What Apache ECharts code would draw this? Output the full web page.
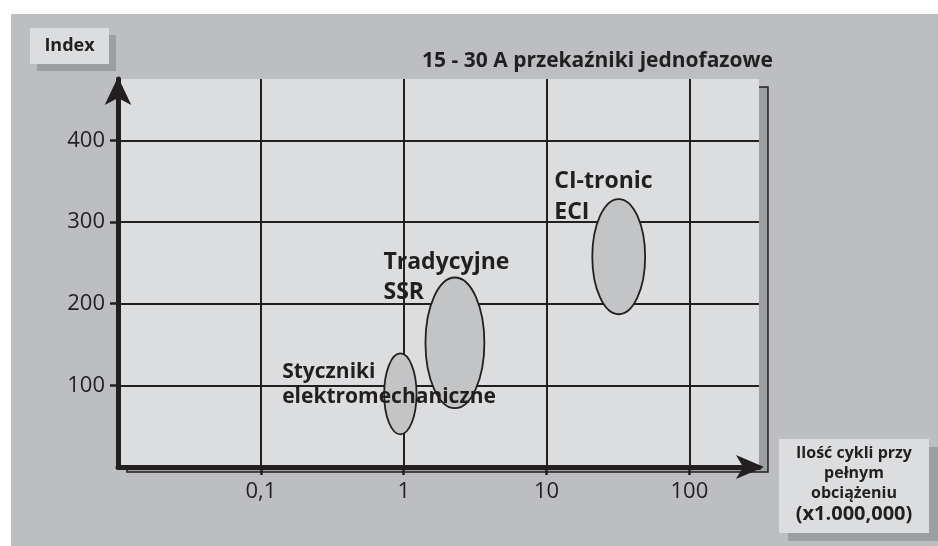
<!DOCTYPE html>
<html>
<head>
<meta charset="utf-8">
<script src="https://cdn.jsdelivr.net/npm/echarts@6/dist/echarts.min.js"></script>
<style>
  html, body { margin: 0; padding: 0; background: #fff; }
  #chart { width: 938px; height: 546px; }
</style>
</head>
<body>
<div id="chart"></div>
<script>
(function(){

  // groups of relays, with the range of each ellipse
  var groups = ['Styczniki\nelektromechaniczne', 'Tradycyjne\nSSR', 'CI-tronic\nECI'];
  var cyclesMin = [0.73, 1.42, 20.9];   // x1.000.000 cycles
  var cyclesMax = [1.23, 3.67, 49];
  var indexMin = [40, 72, 187];
  var indexMax = [139, 232, 328];

  var xTicks = [0.1, 1, 10, 100];
  var yTicks = [100, 200, 300, 400];
  var xMin = 0.01, xMax = 307;
  var yMax = 475;

  var font = 'Open Sans';
  var ink = '#231f20';

  // label placement relative to the top-left of each ellipse (px)
  var labelStyle = [
    { dx: -102, dy: 6.5, size: 21, lh: 25 },
    { dx: -42, dy: -30, size: 23, lh: 30 },
    { dx: -38, dy: -33.5, size: 23, lh: 31 }
  ];

  var data = groups.map(function(g, i){
    return [Math.log10(cyclesMin[i]), Math.log10(cyclesMax[i]), indexMin[i], indexMax[i]];
  });

  var chart = echarts.init(document.getElementById('chart'));

  var option = {
    animation: false,
    textStyle: { fontFamily: font },
    title: {
      text: '15 - 30 A przekaźniki jednofazowe',
      right: 165,
      top: 51,
      padding: 0,
      textStyle: { fontFamily: font, fontSize: 21, fontWeight: 'bold', color: ink }
    },
    grid: {
      left: 118, right: 179, top: 79, bottom: 79,
      show: true,
      backgroundColor: '#dcdddf',
      borderWidth: 0
    },
    xAxis: {
      type: 'value',
      min: Math.log10(xMin),
      max: Math.log10(xMax),
      interval: 1,
      axisLine: {
        onZero: false,
        lineStyle: { color: ink, width: 5 },
        symbol: ['none', 'arrow'],
        symbolSize: [18, 28],
        symbolOffset: [0, 5]
      },
      axisTick: {
        show: true, length: 8,
        lineStyle: { color: ink, width: 2.5 },
        customValues: xTicks.map(function(v){ return Math.log10(v); })
      },
      axisLabel: {
        fontSize: 22, color: ink, margin: 14, fontFamily: font,
        customValues: xTicks.map(function(v){ return Math.log10(v); }),
        formatter: function(v){
          return String(Number(Math.pow(10, v).toPrecision(3))).replace('.', ',');
        }
      },
      splitLine: { show: true, lineStyle: { color: ink, width: 2 } }
    },
    yAxis: {
      type: 'value',
      min: 0,
      max: yMax,
      interval: 100,
      axisLine: {
        show: true,
        onZero: false,
        lineStyle: { color: ink, width: 5 },
        symbol: ['none', 'arrow'],
        symbolSize: [20, 28],
        symbolOffset: [0, 2]
      },
      axisTick: {
        show: true, length: 8,
        lineStyle: { color: ink, width: 2.5 },
        customValues: yTicks
      },
      axisLabel: {
        fontSize: 22, color: ink, margin: 13, fontFamily: font,
        customValues: yTicks
      },
      splitLine: { show: true, lineStyle: { color: ink, width: 2 } }
    },
    graphic: [
      // panel background
      { type: 'rect', z: -10, shape: { x: 11, y: 14, width: 927, height: 532 }, style: { fill: '#bdbec1' } },
      // plot shadow
      { type: 'rect', z: -5, shape: { x: 127, y: 87, width: 641, height: 385 },
        style: { fill: '#9d9ea0', stroke: ink, lineWidth: 1.5 } },
      // y axis name box
      { type: 'rect', z: -5, shape: { x: 37, y: 35, width: 79, height: 36 }, style: { fill: '#9d9ea0' } },
      { type: 'rect', z: -4, shape: { x: 30, y: 28, width: 79, height: 36 }, style: { fill: '#dcdddf' } },
      { type: 'text', z: 5, x: 69.5, y: 46,
        style: { text: 'Index', fontFamily: font, fontSize: 18, fontWeight: 'bold', fill: ink,
          align: 'center', verticalAlign: 'middle' } },
      // x axis name box
      { type: 'rect', z: -5, shape: { x: 788, y: 447, width: 150, height: 94 }, style: { fill: '#9d9ea0' } },
      { type: 'rect', z: -4, shape: { x: 779, y: 439, width: 150, height: 94 }, style: { fill: '#dcdddf' } },
      { type: 'text', z: 5, x: 854, y: 484,
        style: {
          text: '{a|Ilość cykli przy}\n{a|pełnym}\n{a|obciążeniu}\n{b|(x1.000,000)}',
          align: 'center', verticalAlign: 'middle', fill: ink,
          rich: {
            a: { fontFamily: font, fontSize: 16, fontWeight: 'bold', lineHeight: 20, fill: ink },
            b: { fontFamily: font, fontSize: 20, fontWeight: 'bold', lineHeight: 21, fill: ink }
          }
        } }
    ],
    series: [{
      type: 'custom',
      name: 'Index',
      clip: false,
      encode: { x: [0, 1], y: [2, 3] },
      data: data,
      renderItem: function(params, api){
        var i = params.dataIndex;
        var p1 = api.coord([api.value(0), api.value(3)]);
        var p2 = api.coord([api.value(1), api.value(2)]);
        var ls = labelStyle[i];
        return {
          type: 'group',
          children: [{
            type: 'ellipse',
            shape: {
              cx: (p1[0] + p2[0]) / 2, cy: (p1[1] + p2[1]) / 2,
              rx: (p2[0] - p1[0]) / 2, ry: (p2[1] - p1[1]) / 2
            },
            style: { fill: '#c3c4c6', stroke: ink, lineWidth: 1.8 }
          }, {
            type: 'text',
            x: p1[0] + ls.dx,
            y: p1[1] + ls.dy,
            z2: 10,
            style: {
              text: groups[i],
              fontFamily: font, fontSize: ls.size, fontWeight: 'bold',
              lineHeight: ls.lh, fill: ink,
              align: 'left', verticalAlign: 'top'
            }
          }]
        };
      }
    }]
  };

  option && chart.setOption(option);

})();
</script>
</body>
</html>
